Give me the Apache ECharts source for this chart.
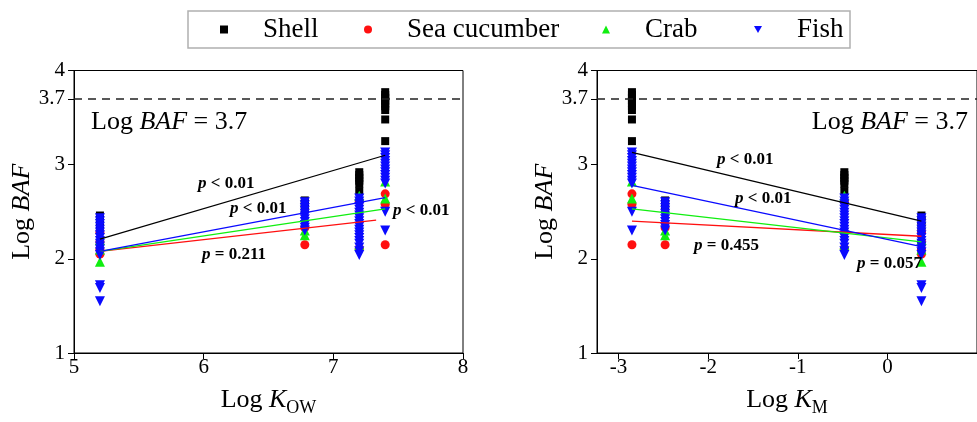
<!DOCTYPE html>
<html>
<head>
<meta charset="utf-8">
<script src="https://cdn.jsdelivr.net/npm/echarts@6/dist/echarts.min.js"></script>
<style>
  html, body { margin: 0; padding: 0; background: #fff; }
  #cn { width: 977px; height: 422px; }
</style>
</head>
<body>
<div id="cn"></div>
<script>
'use strict';

// compounds: log Kow and log Km (same compound order in both panels)
const logKow = [5.2, 6.78, 7.2, 7.4];
const logKm = [0.38, -2.48, -0.48, -2.85];

// log BAF per compound, one list per species
const shell = [
    [2.46, 2.41, 2.34],
    [2.62, 2.58, 2.53],
    [2.92, 2.89, 2.86, 2.83, 2.80, 2.72],
    [3.77, 3.74, 3.71, 3.68, 3.65, 3.62, 3.58, 3.48, 3.25]
];
const seaCucumber = [
    [2.28, 2.18, 2.10, 2.05],
    [2.33, 2.15],
    [2.61, 2.11],
    [2.69, 2.58, 2.15]
];
const crab = [
    [2.20, 2.10, 1.97],
    [2.30, 2.25],
    [2.67, 2.15],
    [2.82, 2.64]
];
const fish = [
    [2.43, 2.40, 2.37, 2.34, 2.31, 2.28, 2.25, 2.22, 2.19, 2.16, 2.13, 2.10, 2.07, 2.04, 1.72, 1.69, 1.55],
    [2.60, 2.57, 2.54, 2.51, 2.48, 2.45, 2.42, 2.39, 2.36, 2.33, 2.30],
    [2.64, 2.61, 2.58, 2.55, 2.52, 2.49, 2.46, 2.43, 2.40, 2.37, 2.34, 2.31, 2.28, 2.25, 2.22, 2.19, 2.16, 2.12, 2.08, 2.04],
    [3.13, 3.10, 3.07, 3.04, 3.01, 2.98, 2.95, 2.92, 2.89, 2.86, 2.83, 2.80, 2.50, 2.30]
];

// regression lines (end points) for each panel
const fitKow = {
    Shell: [[5.2, 2.21], [7.4, 3.10]],
    'Sea cucumber': [[5.2, 2.08], [7.33, 2.41]],
    Crab: [[5.2, 2.08], [7.4, 2.53]],
    Fish: [[5.2, 2.08], [7.4, 2.65]]
};
const fitKm = {
    Shell: [[-2.85, 3.13], [0.38, 2.40]],
    'Sea cucumber': [[-2.85, 2.40], [0.38, 2.24]],
    Crab: [[-2.85, 2.53], [0.38, 2.18]],
    Fish: [[-2.85, 2.78], [0.38, 2.13]]
};

const yTicks = [1, 2, 3, 3.7, 4];
const kmTicks = [-3, -2, -1, 0];
const baf = 3.7;

const FONT = 'Liberation Serif';
const fishIcon = 'path://M0,0L10,0L5,9Z';

const species = [
    { name: 'Shell', vals: shell, color: '#000000', symbol: 'rect', size: 8, legendX: 220 },
    { name: 'Sea cucumber', vals: seaCucumber, color: '#ff1010', symbol: 'circle', size: 9, legendX: 364 },
    { name: 'Crab', vals: crab, color: '#10ee10', symbol: 'triangle', size: 10, legendX: 602 },
    { name: 'Fish', vals: fish, color: '#0a0aff', symbol: fishIcon, size: 10, legendX: 754 }
];

const toPoints = (xs, vals) => {
    let out = [];
    vals.forEach((list, i) => {
        list.forEach(v => out.push([xs[i], v]));
    });
    return out;
};

const axisCommon = {
    axisLine: { show: true, onZero: false, lineStyle: { color: '#000', width: 1 } },
    axisTick: { show: true, inside: false, length: 6, lineStyle: { color: '#000' } },
    splitLine: { show: false },
    axisLabel: { color: '#000', fontFamily: FONT, fontSize: 21 },
    nameTextStyle: { color: '#000', fontFamily: FONT, fontSize: 26 }
};

const xName = (sub) => ({
    name: 'Log {i|K}{s|' + sub + '}',
    nameLocation: 'middle',
    nameGap: 30,
    nameTextStyle: {
        color: '#000', fontFamily: FONT, fontSize: 26,
        rich: {
            i: { fontStyle: 'italic', fontFamily: FONT, fontSize: 26, color: '#000' },
            s: { fontFamily: FONT, fontSize: 18, color: '#000', padding: [16, 0, 0, 0] }
        }
    }
});

const yAxisOf = (gi) => Object.assign({}, axisCommon, {
    type: 'value',
    gridIndex: gi,
    min: 1,
    max: 4,
    axisLabel: Object.assign({}, axisCommon.axisLabel, { customValues: yTicks, margin: 9 }),
    axisTick: Object.assign({}, axisCommon.axisTick, { customValues: yTicks }),
    name: 'Log {i|BAF}',
    nameLocation: 'middle',
    nameRotate: 90,
    nameGap: 37,
    nameTextStyle: {
        color: '#000', fontFamily: FONT, fontSize: 26,
        rich: { i: { fontStyle: 'italic', fontFamily: FONT, fontSize: 26, color: '#000' } }
    }
});

let series = [];
[[logKow, fitKow], [logKm, fitKm]].forEach(([xs, fits], gi) => {
    species.forEach((s, k) => {
        let ser = {
            name: s.name,
            type: 'scatter',
            xAxisIndex: gi,
            yAxisIndex: gi,
            symbol: s.symbol,
            symbolSize: s.size,
            itemStyle: { color: s.color, opacity: 1 },
            data: toPoints(xs, s.vals),
            z: 2 + k
        };
        if (k === 0) {
            ser.markLine = {
                silent: true,
                symbol: ['none', 'none'],
                label: { show: false },
                lineStyle: { type: [8, 6], color: '#222', width: 1.5 },
                data: [{ yAxis: baf }]
            };
        }
        series.push(ser);
    });
    species.forEach(s => {
        series.push({
            name: s.name + ' fit',
            type: 'line',
            xAxisIndex: gi,
            yAxisIndex: gi,
            symbol: 'none',
            showSymbol: false,
            silent: true,
            lineStyle: { color: s.color, width: 1.3 },
            data: fits[s.name],
            z: 10
        });
    });
});

const legends = species.map(s => ({
    data: [{ name: s.name, icon: s.symbol }],
    left: s.legendX,
    top: 16,
    padding: 0,
    itemWidth: 8,
    itemHeight: 8,
    selectedMode: false,
    textStyle: { fontFamily: FONT, fontSize: 27, color: '#000', padding: [0, 0, 0, 30] }
}));

const richP = {
    p: { fontStyle: 'italic', fontWeight: 'bold', fontFamily: FONT, fontSize: 17, fill: '#000' }
};
const pText = (x, y, txt) => ({
    type: 'text',
    x: x,
    y: y,
    z: 100,
    style: {
        text: '{p|p} ' + txt,
        fontFamily: FONT,
        fontSize: 17,
        fontWeight: 'bold',
        fill: '#000',
        verticalAlign: 'middle',
        rich: richP
    }
});
const bafText = (x, y, align) => ({
    type: 'text',
    x: x,
    y: y,
    z: 100,
    style: {
        text: 'Log {i|BAF} = 3.7',
        fontFamily: FONT,
        fontSize: 26,
        fill: '#000',
        align: align,
        verticalAlign: 'middle',
        rich: { i: { fontStyle: 'italic', fontFamily: FONT, fontSize: 26, fill: '#000' } }
    }
});

const chart = echarts.init(document.getElementById('cn'), null, { renderer: 'canvas' });

chart.setOption({
    animation: false,
    backgroundColor: '#fff',
    grid: [
        { left: 74, top: 70.5, width: 389, height: 285.5, show: true, borderColor: '#000', borderWidth: 1 },
        { left: 597, top: 70.5, width: 387.6, height: 285.5, show: true, borderColor: '#000', borderWidth: 1 }
    ],
    legend: legends,
    xAxis: [
        Object.assign({}, axisCommon, xName('OW'), {
            type: 'value', gridIndex: 0, min: 5, max: 8, interval: 1,
            axisLabel: Object.assign({}, axisCommon.axisLabel, { margin: 4 })
        }),
        Object.assign({}, axisCommon, xName('M'), {
            type: 'value', gridIndex: 1, min: -3.24, max: 1,
            axisLabel: Object.assign({}, axisCommon.axisLabel, { margin: 4, customValues: kmTicks }),
            axisTick: Object.assign({}, axisCommon.axisTick, { customValues: kmTicks })
        })
    ],
    yAxis: [yAxisOf(0), yAxisOf(1)],
    graphic: [
        {
            type: 'rect',
            shape: { x: 188, y: 11, width: 662, height: 37 },
            style: { fill: 'none', stroke: '#b0b0b0', lineWidth: 1.5 },
            z: 0
        },
        bafText(91, 122, 'left'),
        bafText(968, 122, 'right'),
        pText(198, 184, '< 0.01'),
        pText(230, 209, '< 0.01'),
        pText(393, 211, '< 0.01'),
        pText(202, 255, '= 0.211'),
        pText(717, 160, '< 0.01'),
        pText(735, 199, '< 0.01'),
        pText(694, 246, '= 0.455'),
        pText(857, 264, '= 0.057')
    ],
    series: series
});
</script>
</body>
</html>
